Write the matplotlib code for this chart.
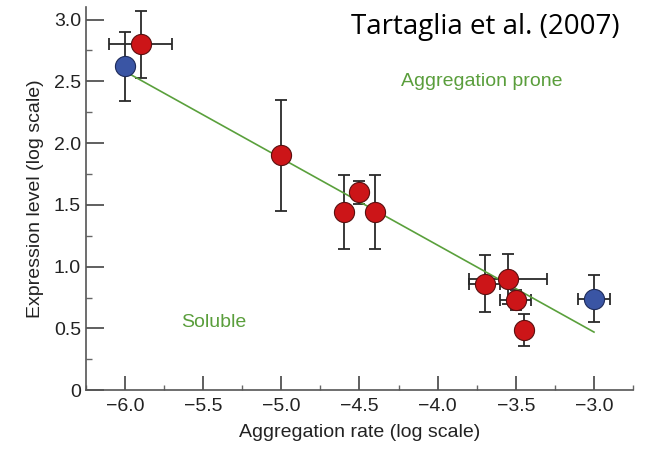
import matplotlib
matplotlib.use('Agg')
import matplotlib.pyplot as plt
from matplotlib.ticker import MultipleLocator
import numpy as np

plt.rcParams['font.family'] = ['Liberation Sans', 'DejaVu Sans']

# red: aggregation-prone proteins, blue: reference proteins
red_x = [-5.90, -5.00, -4.60, -4.50, -4.40, -3.70, -3.55, -3.50, -3.45]
red_y = [2.80, 1.90, 1.44, 1.60, 1.44, 0.86, 0.90, 0.73, 0.49]
red_xerr = [0.20, 0.0, 0.0, 0.0, 0.0, 0.10, 0.25, 0.10, 0.0]
red_yerr = [0.27, 0.45, 0.30, 0.09, 0.30, 0.23, 0.20, 0.08, 0.13]

blue_x = [-6.00, -3.00]
blue_y = [2.62, 0.74]
blue_xerr = [0.0, 0.10]
blue_yerr = [0.28, 0.19]

fit_x = [-6.0, -3.0]
fit_y = [2.58, 0.47]

yticks = [0, 0.5, 1.0, 1.5, 2.0, 2.5, 3.0]
ytick_labels = ['0', '0.5', '1.0', '1.5', '2.0', '2.5', '3.0']
xticks = [-6.0, -5.5, -5.0, -4.5, -4.0, -3.5, -3.0]

fig = plt.figure(figsize=(6.46, 4.5), dpi=100)
ax = fig.add_axes([0.133, 0.133, 0.847, 0.851])

ax.plot(fit_x, fit_y, color='#5aa03c', lw=1.2, zorder=2)

ebkw = dict(fmt='none', ecolor='#2a2a2a', elinewidth=1.3, capsize=4,
            capthick=1.3, zorder=1)
ax.errorbar(red_x, red_y, xerr=red_xerr, yerr=red_yerr, **ebkw)
ax.errorbar(blue_x, blue_y, xerr=blue_xerr, yerr=blue_yerr, **ebkw)

ax.plot(red_x, red_y, 'o', ms=14.5, mfc='#cc1518', mec='#5a1010',
        mew=0.8, zorder=3)
ax.plot(blue_x, blue_y, 'o', ms=14.5, mfc='#3a55a4', mec='#1e2b5a',
        mew=0.8, zorder=3)

ax.set_xlim(-6.25, -2.75)
ax.set_ylim(0, 3.1)

ax.set_xticks(xticks)
ax.xaxis.set_minor_locator(MultipleLocator(0.25))
ax.set_yticks(yticks)
ax.set_yticklabels(ytick_labels)
ax.yaxis.set_minor_locator(MultipleLocator(0.25))

for s in ['top', 'right']:
    ax.spines[s].set_visible(False)
for s in ['left', 'bottom']:
    ax.spines[s].set_color('#555555')
    ax.spines[s].set_linewidth(1.2)

ax.tick_params(axis='y', which='major', direction='in', length=13,
               width=1.2, color='#444444', labelsize=14, pad=3.5,
               labelcolor='#222222')
ax.tick_params(axis='y', which='minor', direction='in', length=4.5,
               width=1.0, color='#666666')
ax.tick_params(axis='x', which='major', direction='in', length=10,
               width=1.2, color='#444444', labelsize=14, pad=6,
               labelcolor='#222222')
ax.tick_params(axis='x', which='minor', direction='in', length=3.5,
               width=1.0, color='#666666')

ax.set_xlabel('Aggregation rate (log scale)', fontsize=14, color='#222222',
              labelpad=6)
ax.set_ylabel('Expression level (log scale)', fontsize=14, color='#222222',
              labelpad=7)

ax.text(-3.72, 2.5, 'Aggregation prone', color='#5a9e3c', fontsize=14,
        ha='center', va='center')
ax.text(-5.43, 0.55, 'Soluble', color='#5a9e3c', fontsize=14,
        ha='center', va='center')

fig.text(0.751, 0.94, 'Tartaglia et al. (2007)', fontsize=20,
         family=['Open Sans', 'DejaVu Sans'], ha='center', va='center')

fig.savefig('out.png', dpi=100)
